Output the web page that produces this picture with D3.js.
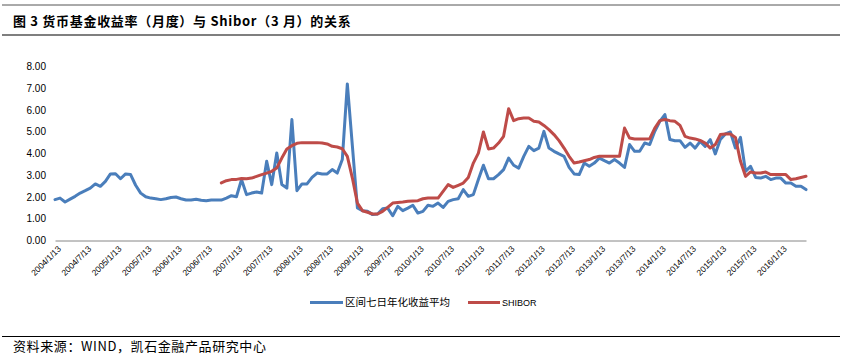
<!DOCTYPE html>
<html><head><meta charset="utf-8">
<script src="https://cdn.jsdelivr.net/npm/d3@7"></script>
<style>
body{margin:0;background:#fff;}
svg{display:block;}
</style></head>
<body>
<svg id="c" width="842" height="359"></svg>
<script>
// ---- data ----
const categories = [];
for (let yr = 2004; yr <= 2016; yr++) {
  for (let m = 1; m <= 12; m++) {
    if (yr === 2016 && m > 6) break;
    categories.push(yr + "/" + m + "/13");
  }
}
const seriesNames = ["区间七日年化收益平均", "SHIBOR"];
const moneyFundYield = [
  1.88,1.95,1.77,1.90,2.03,2.18,2.29,2.41,2.60,2.49,2.72,3.06,
  3.07,2.84,3.06,3.03,2.54,2.18,2.01,1.95,1.92,1.88,1.92,1.98,
  2.00,1.92,1.86,1.86,1.90,1.85,1.83,1.86,1.86,1.86,1.95,2.06,
  2.01,2.80,2.11,2.18,2.23,2.18,3.64,2.57,4.02,2.57,2.41,5.56,
  2.29,2.60,2.60,2.90,3.10,3.06,3.06,3.26,3.10,3.72,7.20,4.35,
  1.50,1.37,1.34,1.19,1.22,1.46,1.49,1.14,1.57,1.37,1.49,1.62,
  1.26,1.34,1.62,1.57,1.72,1.52,1.80,1.88,1.92,2.34,2.03,2.11,
  2.80,3.46,2.84,2.84,3.03,3.26,3.79,3.46,3.33,3.87,4.33,4.13,
  4.25,5.02,4.25,4.10,3.98,3.87,3.36,3.06,3.03,3.56,3.41,3.56,
  3.79,3.67,3.56,3.72,3.56,3.36,4.41,4.10,4.10,4.48,4.41,5.02,
  5.48,5.79,4.64,4.59,4.59,4.28,4.48,4.25,4.56,4.33,4.64,3.98,
  4.64,4.90,4.99,4.25,4.74,3.18,3.41,2.90,2.87,2.95,2.80,2.87,
  2.87,2.64,2.64,2.49,2.49,2.34
];
const shibor3M = [
  null,null,null,null,null,null,null,null,null,null,null,null,
  null,null,null,null,null,null,null,null,null,null,null,null,
  null,null,null,null,null,null,null,null,null,2.65,2.75,2.80,
  2.81,2.85,2.84,2.87,2.95,3.03,3.10,3.18,3.33,3.79,4.21,4.36,
  4.47,4.50,4.50,4.50,4.50,4.48,4.44,4.33,4.30,4.22,3.87,2.87,
  1.72,1.37,1.30,1.22,1.22,1.34,1.52,1.72,1.75,1.77,1.80,1.82,
  1.83,1.92,1.95,1.95,1.95,2.26,2.57,2.44,2.54,2.64,2.90,3.56,
  4.02,4.99,4.21,4.25,4.48,4.79,6.06,5.51,5.60,5.63,5.63,5.48,
  5.45,5.29,5.10,4.87,4.59,4.25,3.87,3.56,3.61,3.67,3.72,3.82,
  3.87,3.87,3.87,3.87,3.87,5.17,4.71,4.67,4.67,4.67,4.68,5.17,
  5.51,5.56,5.51,5.48,5.29,4.79,4.71,4.67,4.60,4.48,4.25,4.41,
  4.87,4.90,4.90,4.74,3.64,2.95,3.15,3.10,3.10,3.15,3.03,3.03,
  3.03,3.03,2.80,2.84,2.90,2.95
];
const yTicks = [0,1,2,3,4,5,6,7,8];
const xTickLabels = categories.filter((d, i) => i % 6 === 0);
const titleText = "图 3 货币基金收益率（月度）与 Shibor（3 月）的关系";
const sourceText = "资料来源：WIND，凯石金融产品研究中心";

// ---- drawing ----
const svg = d3.select("#c");
const colors = ["#4A7EBB", "#BE4B48"];
const numFont = "'Liberation Sans', Arial, sans-serif";
const cjkFont = "'Noto Sans CJK SC', sans-serif";

// rules
[[5, "#555", 1], [35, "#000", 1.2], [336.5, "#000", 1.2]].forEach(([yy, c, w]) => {
  svg.append("line").attr("x1", 2).attr("x2", 840).attr("y1", yy).attr("y2", yy)
    .attr("stroke", c).attr("stroke-width", w);
});

svg.append("text").attr("x", 13).attr("y", 25.5)
  .attr("font-family", cjkFont).attr("font-weight", "bold").attr("font-size", 13)
  .attr("letter-spacing", 0.7)
  .attr("fill", "#000").text(titleText);

svg.append("text").attr("x", 13).attr("y", 351)
  .attr("font-family", cjkFont).attr("font-size", 13).attr("letter-spacing", 0.6)
  .attr("fill", "#000").text(sourceText);

const x = d3.scalePoint().domain(categories).range([55, 806]);
const y = d3.scaleLinear().domain([0, 8]).range([240.5, 66.5]);

// y axis
const yAxis = svg.append("g").attr("transform", "translate(49,0)")
  .call(d3.axisLeft(y).tickValues(yTicks).tickFormat(d3.format(".2f")).tickSize(0).tickPadding(3));
yAxis.select(".domain").remove();
yAxis.selectAll("text").attr("font-family", numFont).attr("font-size", 10).attr("fill", "#000");

// x axis
const xAxis = svg.append("g").attr("transform", "translate(0,240.5)")
  .call(d3.axisBottom(x).tickValues(xTickLabels).tickSize(0).tickSizeOuter(0).tickPadding(0));
xAxis.select(".domain").attr("stroke", "#868686").attr("stroke-width", 1);
xAxis.selectAll(".tick text")
  .attr("font-family", numFont).attr("font-size", 8.5).attr("fill", "#000")
  .attr("text-anchor", "end").attr("dy", 0)
  .attr("transform", "translate(6,9) rotate(-45)");

// lines
const line = d3.line()
  .defined(d => d[1] != null)
  .x(d => x(d[0])).y(d => y(d[1]));

[moneyFundYield, shibor3M].forEach((vals, k) => {
  svg.append("path")
    .datum(categories.map((c, i) => [c, vals[i]]))
    .attr("fill", "none").attr("stroke", colors[k]).attr("stroke-width", 3)
    .attr("stroke-linejoin", "round").attr("stroke-linecap", "round")
    .attr("d", line);
});

// legend
const legend = [
  {x1: 310, x2: 343, tx: 345, font: cjkFont, size: 10.5},
  {x1: 468, x2: 500, tx: 502, font: numFont, size: 9}
];
legend.forEach((l, k) => {
  svg.append("line").attr("x1", l.x1).attr("x2", l.x2).attr("y1", 302.5).attr("y2", 302.5)
    .attr("stroke", colors[k]).attr("stroke-width", 3);
  svg.append("text").attr("x", l.tx).attr("y", 302.5).attr("dy", "0.35em")
    .attr("font-family", l.font).attr("font-size", l.size).attr("fill", "#000")
    .text(seriesNames[k]);
});
</script>
</body></html>
